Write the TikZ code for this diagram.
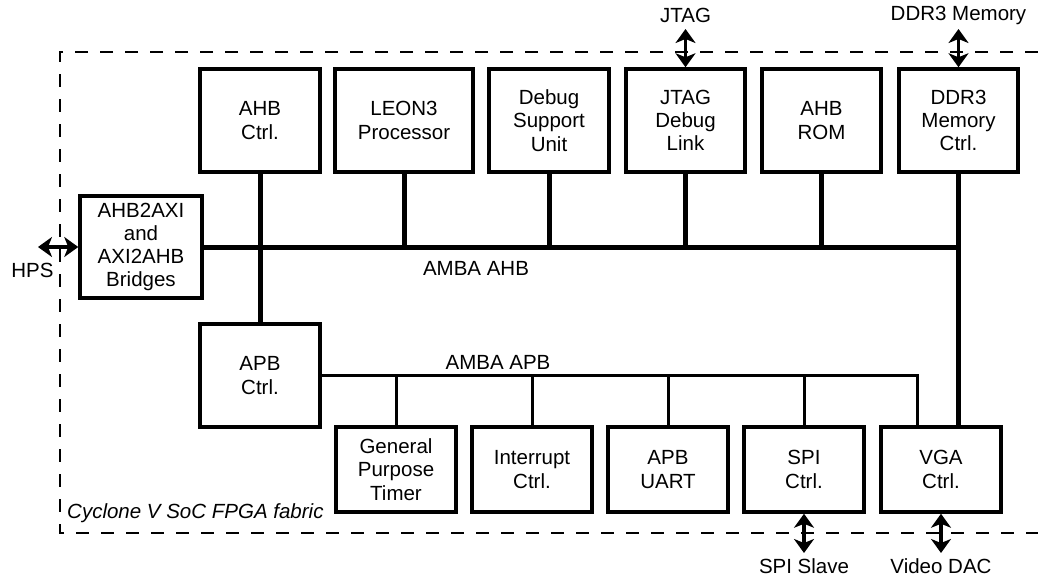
\documentclass[tikz,border=0pt]{standalone}
\usepackage{fontspec}
\setmainfont{Liberation Sans}
\usetikzlibrary{arrows.meta}
\begin{document}
\begin{tikzpicture}[x=1pt,y=-1pt,
  every node/.style={font=\fontsize{20.5}{23.3}\selectfont},
  blk/.style={draw, line width=3.5pt, inner sep=0pt, align=center, minimum width=120pt, minimum height=103pt},
  lowblk/.style={blk, minimum height=85pt},
  ahbbus/.style={line width=5pt},
  apbbus/.style={line width=3pt},
  fabric/.style={line width=1.8pt, dash pattern=on 13pt off 12pt},
  io/.style={line width=3.5pt, {Stealth[length=14pt 0,width=20pt 0,inset=4pt 0]}-{Stealth[length=14pt 0,width=20pt 0,inset=4pt 0]}},
  lbl/.style={inner sep=0pt}
]
\useasboundingbox (0,0) rectangle (1038,578);
% fabric boundary
\draw[fabric] (1038,52) -| (60,533) -- (1038,533);
\node[lbl, anchor=base west, font=\fontsize{20.5}{23.3}\selectfont\itshape] (fab) at (67,518) {Cyclone V SoC FPGA fabric};

% top row
\node[blk] (ahbctrl) at (260,120.5) {AHB\\Ctrl.};
\node[blk, minimum width=138pt] (leon) at (404,120.5) {LEON3\\Processor};
\node[blk] (dsu) at (549,120.5) {Debug\\Support\\Unit};
\node[blk, minimum width=119pt] (jtag) at (685.5,120.5) {JTAG\\Debug\\Link};
\node[blk, minimum width=119pt] (rom) at (821.5,120.5) {AHB\\ROM};
\node[blk, minimum width=119pt] (ddr) at (958.5,120.5) {DDR3\\Memory\\Ctrl.};

% bridges
\node[blk, minimum width=122pt, minimum height=102pt] (brg) at (141,247) {AHB2AXI\\and\\AXI2AHB\\Bridges};

% APB ctrl
\node[blk] (apbctrl) at (260,375.5) {APB\\Ctrl.};

% bottom row
\node[lowblk] (gpt) at (396,469.5) {General\\Purpose\\Timer};
\node[lowblk] (irq) at (532,469.5) {Interrupt\\Ctrl.};
\node[lowblk] (uart) at (668,469.5) {APB\\UART};
\node[lowblk] (spi) at (804,469.5) {SPI\\Ctrl.};
\node[lowblk] (vga) at (941,469.5) {VGA\\Ctrl.};

% AHB bus
\coordinate (ahbR) at (958.5,247);
\draw[ahbbus] (brg.east) -- (ahbR);
\draw[ahbbus] (ahbctrl.south) -- (apbctrl.north);
\draw[ahbbus] (leon.south) -- (leon.south |- ahbR);
\draw[ahbbus] (dsu.south) -- (dsu.south |- ahbR);
\draw[ahbbus] (jtag.south) -- (jtag.south |- ahbR);
\draw[ahbbus] (rom.south) -- (rom.south |- ahbR);
\draw[ahbbus] (ddr.south) -- (ddr.south |- vga.north);
\node[lbl] (ahblbl) at (476,268) {AMBA AHB};

% APB bus
\coordinate (apbR) at (917,375.5);
\draw[apbbus] (apbctrl.east) -- (apbR) -- (apbR |- vga.north);
\draw[apbbus] (gpt.north) -- (gpt.north |- apbR);
\draw[apbbus] (irq.north) -- (irq.north |- apbR);
\draw[apbbus] (uart.north) -- (uart.north |- apbR);
\draw[apbbus] (spi.north) -- (spi.north |- apbR);
\node[lbl] (apblbl) at (498,362) {AMBA APB};

% external interfaces
\node[lbl] (jtagl) at (685.5,15) {JTAG};
\node[lbl] (ddrl) at (958.5,15) {DDR3 Memory};
\node[lbl] (spil) at (804,566) {SPI Slave};
\node[lbl] (vgal) at (941,566) {Video DAC};
\node[lbl] (hpsl) at (32.5,270) {HPS};
\coordinate (jtagT) at (685.5,29);
\coordinate (ddrT) at (958.5,29);
\coordinate (spiB) at (804,553);
\coordinate (vgaB) at (941,553);
\coordinate (hpsL) at (38,247);
\draw[io] (jtagT) -- (jtag.north);
\draw[io] (ddrT) -- (ddr.north);
\draw[io] (spi.south) -- (spiB);
\draw[io] (vga.south) -- (vgaB);
\draw[io] (hpsL) -- (brg.west);
\end{tikzpicture}
\end{document}
